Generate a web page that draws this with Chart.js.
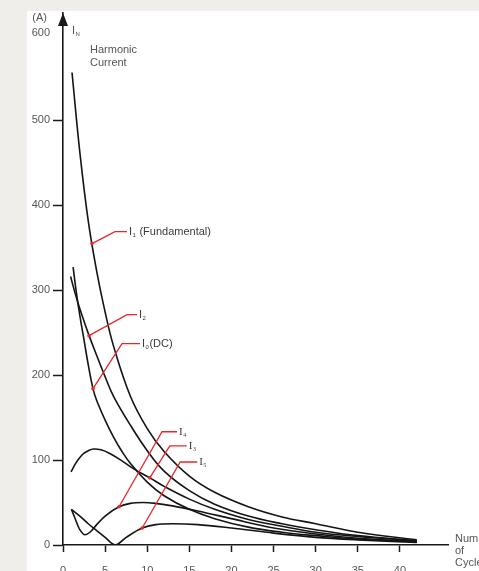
<!DOCTYPE html>
<html>
<head>
<meta charset="utf-8">
<script src="https://cdn.jsdelivr.net/npm/chart.js@4.4.1/dist/chart.umd.min.js"></script>
<style>
  html, body { margin: 0; padding: 0; background: #efeeea; }
  canvas { display: block; }
</style>
</head>
<body>
<canvas id="harmonics" width="479" height="571"></canvas>
<script>
// Axis ticks
const xTicks = [0, 5, 10, 15, 20, 25, 30, 35, 40];
const yTicks = [0, 100, 200, 300, 400, 500, 600];

// Harmonic current (A) versus number of cycles
const cyclesI1 = [1.07, 2, 3, 4, 5, 6, 8, 10, 12, 15, 18, 22, 26, 30, 35, 42];
const currentI1 = [556, 462, 381, 322, 274, 234, 175, 137, 110, 81, 62, 45, 33, 25, 15, 6];

const cyclesI2 = [0.9, 1.5, 2, 3, 4, 5, 6, 8, 10, 12, 15, 18, 22, 26, 30, 35, 42];
const currentI2 = [316, 294, 278, 249, 223, 198, 175, 141, 111, 87, 64, 48, 34, 25, 18, 11, 5];

const cyclesI0 = [1.2, 1.6, 2, 2.5, 3, 3.56, 4, 5, 6, 7, 8, 10, 12, 15, 18, 22, 26, 30, 35, 42];
const currentI0 = [327, 296, 270, 241, 212, 184, 170, 147, 127, 110, 96, 74, 58, 42, 31, 21, 15, 11, 7, 4];

const cyclesI3 = [0.95, 1.5, 2, 2.5, 3, 3.6, 4.5, 5.5, 7, 8.5, 10.3, 12, 15, 18, 22, 26, 30, 35, 42];
const currentI3 = [86, 96, 103, 108, 111, 113, 112, 108, 99, 89, 79, 69, 54, 42, 30, 22, 15, 10, 5];

const cyclesI4 = [1.0, 1.4, 2, 2.6, 3.2, 4, 5, 6.65, 8, 9.5, 11, 13, 16, 20, 25, 30, 35, 42];
const currentI4 = [42, 32, 18, 12, 15, 24, 34, 45, 49, 50, 49, 46, 40, 31, 20, 13, 8, 4];

const cyclesI5 = [1.0, 2, 3, 4, 5, 6.2, 7.5, 9.4, 11, 13, 16, 20, 25, 30, 35, 42];
const currentI5 = [42, 34, 25, 17, 9, 0, 9, 20, 24, 25, 24, 20, 14, 9, 6, 3];

// Curve labels: name, subscript, trailing text, cycle where the leader touches the curve
const labelMain = ['I', 'I', 'I', 'I', 'I', 'I'];
const labelSub = ['1', '2', '0', '4', '3', '5'];
const labelTail = [' (Fundamental)', '', '(DC)', '', '', ''];
const labelCycle = [3.44, 3.09, 3.56, 6.65, 10.3, 9.4];

const seriesCycles = [cyclesI1, cyclesI2, cyclesI0, cyclesI3, cyclesI4, cyclesI5];
const seriesCurrent = [currentI1, currentI2, currentI0, currentI3, currentI4, currentI5];
const seriesNames = ['I1', 'I2', 'I0', 'I3', 'I4', 'I5'];
// the two low harmonics have sharp turns, so they keep a monotone spline
const seriesMonotone = [false, false, false, false, true, true];

// index into the series list for each label
const labelSeries = [0, 1, 2, 4, 3, 5];
// leader geometry: bend offset from the curve point, then horizontal run
const leaderBend = [[23, -12], [38, -21], [29, -45], [43, -75], [20, -32], [38, -66]];
const leaderRun = [12, 10, 18, 15, 17, 17];
const labelSerif = [false, false, false, true, true, true];

const datasets = seriesNames.map((name, i) => ({
  label: name,
  data: seriesCycles[i].map((c, j) => ({ x: c, y: seriesCurrent[i][j] })),
  borderColor: '#141414',
  borderWidth: 1.6,
  pointRadius: 0,
  fill: false,
  tension: 0.4,
  cubicInterpolationMode: seriesMonotone[i] ? 'monotone' : 'default'
}));

const AXIS = '#1a1a1a';
const TEXT = '#555555';
const SANS = '"Liberation Sans", Arial, Helvetica, sans-serif';
const SERIF = '"Liberation Serif", "Times New Roman", serif';

function drawSubText(ctx, x, y, main, sub, tail, family, color) {
  ctx.fillStyle = color;
  ctx.textBaseline = 'middle';
  ctx.textAlign = 'left';
  ctx.font = '11px ' + family;
  ctx.fillText(main, x, y);
  let cx = x + ctx.measureText(main).width + 0.5;
  ctx.font = '6px ' + family;
  ctx.fillText(sub, cx, y + 3);
  cx += ctx.measureText(sub).width + 0.5;
  if (tail) {
    ctx.font = '11px ' + family;
    ctx.fillText(tail, cx, y);
  }
}

const decor = {
  id: 'decor',
  beforeDraw(chart) {
    const ctx = chart.ctx;
    ctx.save();
    ctx.fillStyle = '#efeeea';
    ctx.fillRect(0, 0, chart.width, chart.height);
    ctx.fillStyle = '#ffffff';
    ctx.fillRect(27, 11, chart.width - 27, chart.height - 11);
    ctx.restore();
  },
  afterDatasetsDraw(chart) {
    const ctx = chart.ctx;
    const xs = chart.scales.x;
    ctx.save();
    labelSeries.forEach((si, k) => {
      const meta = chart.getDatasetMeta(si);
      const px = xs.getPixelForValue(labelCycle[k]);
      let pt = null;
      try { pt = meta.dataset.interpolate({ x: px }, 'x'); } catch (e) { pt = null; }
      if (Array.isArray(pt)) pt = pt[0];
      if (!pt) return;
      const bx = pt.x + leaderBend[k][0];
      const by = pt.y + leaderBend[k][1];
      const ex = bx + leaderRun[k];
      ctx.strokeStyle = '#e8262a';
      ctx.lineWidth = 1.3;
      ctx.beginPath();
      ctx.moveTo(pt.x, pt.y);
      ctx.lineTo(bx, by);
      ctx.lineTo(ex, by);
      ctx.stroke();
      ctx.fillStyle = '#e8262a';
      ctx.beginPath();
      ctx.arc(pt.x, pt.y, 1.8, 0, Math.PI * 2);
      ctx.fill();
      drawSubText(ctx, ex + 2, by + 0.5, labelMain[k], labelSub[k], labelTail[k],
        labelSerif[k] ? SERIF : SANS, '#3a3a3a');
    });
    ctx.restore();
  },
  afterDraw(chart) {
    const ctx = chart.ctx;
    const area = chart.chartArea;
    const ax = area.left;
    ctx.save();
    // arrow head on the current axis
    ctx.fillStyle = AXIS;
    ctx.beginPath();
    ctx.moveTo(ax, area.top);
    ctx.lineTo(ax - 5, area.top + 13);
    ctx.lineTo(ax + 5, area.top + 13);
    ctx.closePath();
    ctx.fill();

    ctx.fillStyle = TEXT;
    ctx.font = '11px ' + SANS;
    ctx.textBaseline = 'middle';
    ctx.textAlign = 'right';
    ctx.fillText('(A)', 47, 18);
    ctx.fillText(String(yTicks[yTicks.length - 1]), 50, 33);

    drawSubText(ctx, 72, 31, 'I', 'N', '', SANS, TEXT);

    ctx.fillStyle = TEXT;
    ctx.font = '11px ' + SANS;
    ctx.textAlign = 'left';
    ctx.fillText('Harmonic', 90, 50);
    ctx.fillText('Current', 90, 63);

    ctx.fillText('Number', 455, 539);
    ctx.fillText('of', 455, 551);
    ctx.fillText('Cycles', 455, 563);
    ctx.restore();
  }
};

new Chart(document.getElementById('harmonics'), {
  type: 'line',
  data: { datasets },
  options: {
    responsive: false,
    animation: false,
    devicePixelRatio: 1,
    layout: { padding: { top: 13, right: 31, left: 0, bottom: 0 } },
    plugins: {
      legend: { display: false },
      tooltip: { enabled: false },
      title: { display: false }
    },
    scales: {
      x: {
        type: 'linear',
        min: 0,
        max: 45.7,
        afterBuildTicks(scale) { scale.ticks = xTicks.map(v => ({ value: v })); },
        afterFit(scale) { scale.height = 26; },
        border: { display: true, color: AXIS, width: 1.6 },
        grid: {
          drawOnChartArea: false,
          drawTicks: true,
          tickLength: 7,
          tickColor: AXIS,
          tickWidth: 1.5
        },
        ticks: {
          padding: 12,
          maxRotation: 0,
          color: TEXT,
          font: { family: SANS, size: 11 }
        }
      },
      y: {
        type: 'linear',
        min: 0,
        max: 626,
        afterBuildTicks(scale) { scale.ticks = yTicks.map(v => ({ value: v })); },
        afterFit(scale) { scale.width = 63; },
        border: { display: true, color: AXIS, width: 1.6 },
        grid: {
          drawOnChartArea: false,
          drawTicks: true,
          tickLength: 10,
          tickColor: (c) => (c.tick && c.tick.value === yTicks[yTicks.length - 1]) ? 'rgba(0,0,0,0)' : AXIS,
          tickWidth: 1.5
        },
        ticks: {
          padding: 3,
          color: TEXT,
          font: { family: SANS, size: 11 },
          callback: (v) => (v === yTicks[yTicks.length - 1] ? '' : String(v))
        }
      }
    }
  },
  plugins: [decor]
});
</script>
</body>
</html>
